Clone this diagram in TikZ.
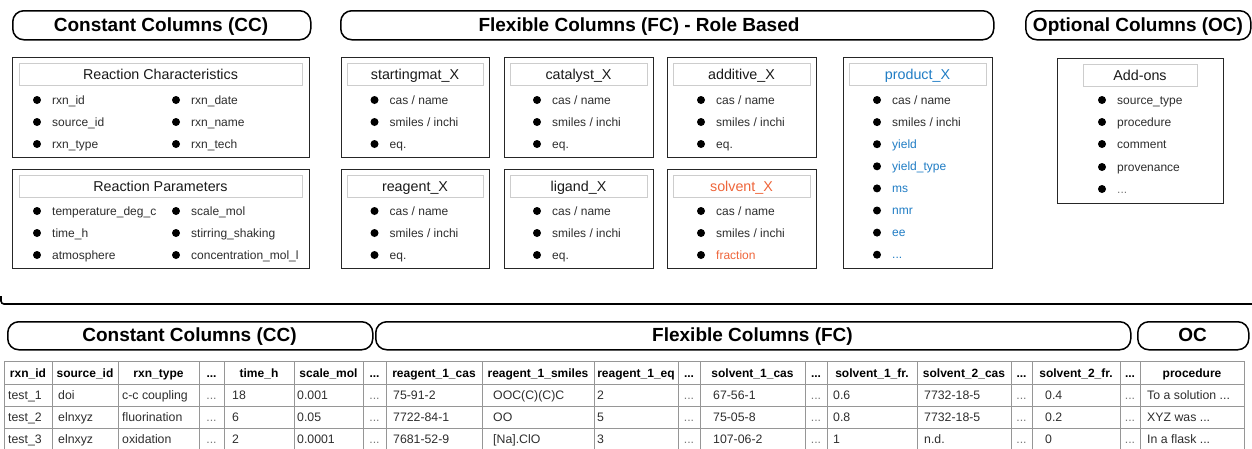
\documentclass[tikz,border=0pt]{standalone}
\usepackage{fontspec}
\setmainfont{Liberation Sans}

\definecolor{prodblue}{RGB}{31,124,196}
\definecolor{solvorange}{RGB}{238,101,58}
\definecolor{inkgray}{RGB}{45,45,45}
\definecolor{framegray}{RGB}{205,205,205}
\definecolor{gridgray}{RGB}{150,150,150}
\definecolor{dotgray}{RGB}{120,120,120}

\tikzset{
  pill/.style={draw=black, line width=1.5pt, rounded corners=11pt, anchor=north west, inner sep=0},
  headtext/.style={font=\fontsize{19}{22}\selectfont\bfseries, anchor=base, inner sep=0},
  grpbox/.style={draw=black!85, line width=1.1pt, anchor=north west, inner sep=0},
  ttlbox/.style={draw=framegray, line width=0.8pt, anchor=north west, inner sep=0},
  ttltext/.style={font=\fontsize{14.3}{17}\selectfont, anchor=base, inner sep=0},
  bulletdot/.style={circle, fill=black, inner sep=0, minimum size=8pt},
  itemtext/.style={font=\fontsize{12}{14}\selectfont, anchor=base west, inner sep=0, text=inkgray},
  gridline/.style={draw=gridgray, line width=0.7pt},
  thead/.style={font=\fontsize{12}{15}\selectfont\bfseries, anchor=base, inner sep=0},
  tcell/.style={font=\fontsize{12.3}{15}\selectfont, anchor=base west, inner sep=0, text=inkgray},
  tdots/.style={font=\fontsize{12.3}{15}\selectfont, anchor=base, inner sep=0, text=dotgray},
}

% rounded header bar: name, x1, y1, x2, y2
\newcommand\pillbox[5]{%
  \node[pill, minimum width={(#4-#2)*1pt}, minimum height={(#5-#3)*1pt}] (#1) at (#2,#3) {};}

% column group box with framed title: [title colour], name, x1, y1, x2, y2, title inset, title
\newcommand\cbox[8][black!90]{%
  \node[grpbox, minimum width={(#5-#3)*1pt}, minimum height={(#6-#4)*1pt}] (#2) at (#3,#4) {};
  \node[ttlbox, minimum width={(#5-#3-2*#7)*1pt}, minimum height=22pt] (#2-frame) at (#3+#7,#4+6) {};
  \node[ttltext, text=#1] (#2-title) at ({(#3+#5)/2},#4+22) {#8};}

% bullet item: [text options], name, x of bullet, y of bullet, text
\newcommand\bul[5][]{%
  \node[bulletdot] (#2-dot) at (#3,#4) {};
  \node[itemtext,#1] (#2) at (#3+15,#4+4.2) {#5};}

\newcommand\ddd{...}

\begin{document}
\begin{tikzpicture}[x=1pt,y=-1pt]
\useasboundingbox (0,0) rectangle (1252,448);

% ---------- header bars ----------
\pillbox{hcc}{12}{10}{310}{39}
\pillbox{hfc}{340}{10}{993}{39}
\pillbox{hoc}{1025}{10}{1250}{39}
\node[headtext] (hcc-t) at (161,31.3) {Constant Columns (CC)};
\node[headtext] (hfc-t) at (639,31.3) {Flexible Columns (FC) - Role Based};
\node[headtext] (hoc-t) at (1138,31.3) {Optional Columns (OC)};

% ---------- constant columns ----------
\cbox{rc}{12}{57}{309}{157}{7}{Reaction Characteristics}
\bul{rc1}{37}{100}{rxn\_id}
\bul{rc2}{37}{122}{source\_id}
\bul{rc3}{37}{144}{rxn\_type}
\bul{rc4}{176}{100}{rxn\_date}
\bul{rc5}{176}{122}{rxn\_name}
\bul{rc6}{176}{144}{rxn\_tech}

\cbox{rp}{12}{169}{309}{268}{7}{Reaction Parameters}
\bul{rp1}{37}{211}{temperature\_deg\_c}
\bul{rp2}{37}{233}{time\_h}
\bul{rp3}{37}{255}{atmosphere}
\bul{rp4}{176}{211}{scale\_mol}
\bul{rp5}{176}{233}{stirring\_shaking}
\bul{rp6}{176}{255}{concentration\_mol\_l}

% ---------- flexible columns ----------
\cbox{sm}{341}{57}{489}{157}{6}{startingmat\_X}
\bul{sm1}{374.5}{100}{cas / name}
\bul{sm2}{374.5}{122}{smiles / inchi}
\bul{sm3}{374.5}{144}{eq.}

\cbox{ca}{504}{57}{653}{157}{6}{catalyst\_X}
\bul{ca1}{537}{100}{cas / name}
\bul{ca2}{537}{122}{smiles / inchi}
\bul{ca3}{537}{144}{eq.}

\cbox{ad}{667}{57}{816}{157}{6}{additive\_X}
\bul{ad1}{701}{100}{cas / name}
\bul{ad2}{701}{122}{smiles / inchi}
\bul{ad3}{701}{144}{eq.}

\cbox{re}{341}{169}{489}{268}{6}{reagent\_X}
\bul{re1}{374.5}{211}{cas / name}
\bul{re2}{374.5}{233}{smiles / inchi}
\bul{re3}{374.5}{255}{eq.}

\cbox{li}{504}{169}{653}{268}{6}{ligand\_X}
\bul{li1}{537}{211}{cas / name}
\bul{li2}{537}{233}{smiles / inchi}
\bul{li3}{537}{255}{eq.}

\cbox[solvorange]{so}{667}{169}{816}{268}{6}{solvent\_X}
\bul{so1}{701}{211}{cas / name}
\bul{so2}{701}{233}{smiles / inchi}
\bul[text=solvorange]{so3}{701}{255}{fraction}

\cbox[prodblue]{pr}{843}{57}{992}{268}{6}{product\_X}
\bul{pr1}{877}{100}{cas / name}
\bul{pr2}{877}{122.1}{smiles / inchi}
\bul[text=prodblue]{pr3}{877}{144.2}{yield}
\bul[text=prodblue]{pr4}{877}{166.3}{yield\_type}
\bul[text=prodblue]{pr5}{877}{188.4}{ms}
\bul[text=prodblue]{pr6}{877}{210.5}{nmr}
\bul[text=prodblue]{pr7}{877}{232.6}{ee}
\bul[text=prodblue]{pr8}{877}{254.7}{...}

% ---------- optional columns ----------
\cbox{ao}{1057}{58}{1223}{203}{26}{Add-ons}
\bul{ao1}{1102}{100}{source\_type}
\bul{ao2}{1102}{122}{procedure}
\bul{ao3}{1102}{144}{comment}
\bul{ao4}{1102}{167}{provenance}
\bul[text=dotgray]{ao5}{1102}{189}{...}

% ---------- divider between schema and table ----------
\coordinate (divA) at (1,296);
\coordinate (divB) at (1,304);
\coordinate (divC) at (1254,304);
\draw[line width=1.6pt, rounded corners=3pt] (divA) -- (divB) -- (divC);

% ---------- table group bars ----------
\pillbox{bcc}{7}{321}{372}{349}
\pillbox{bfc}{375}{321}{1130}{349}
\pillbox{boc}{1137}{321}{1248}{349}
\node[headtext] (bcc-t) at (189.5,341.8) {Constant Columns (CC)};
\node[headtext] (bfc-t) at (752.5,341.8) {Flexible Columns (FC)};
\node[headtext] (boc-t) at (1192.5,341.8) {OC};

% ---------- example table ----------
\foreach \y in {361,384,406,428}
  \draw[gridline] (4,\y) -- (1244,\y);
\foreach \x in {4,52,118,199,224,294,363,386,482,594,678,700,805,827,917,1011,1032,1120,1140,1244}
  \draw[gridline] (\x,361) -- (\x,452);

% flag (0 text / 1 ellipsis) / left / right / left padding / header / three rows
\foreach \f/\l/\r/\p/\h/\a/\b/\c [count=\k] in {
  0/4/52/4/rxn\_id/test\_1/test\_2/test\_3,
  0/52/118/6/source\_id/doi/elnxyz/elnxyz,
  0/118/199/4/rxn\_type/c-c coupling/fluorination/oxidation,
  1/199/224/0/\ddd/\ddd/\ddd/\ddd,
  0/224/294/8/time\_h/18/6/2,
  0/294/363/3/scale\_mol/0.001/0.05/0.0001,
  1/363/386/0/\ddd/\ddd/\ddd/\ddd,
  0/386/482/7/reagent\_1\_cas/75-91-2/7722-84-1/7681-52-9,
  0/482/594/11/reagent\_1\_smiles/OOC(C)(C)C/OO/{[Na].ClO},
  0/594/678/3/reagent\_1\_eq/2/5/3,
  1/678/700/0/\ddd/\ddd/\ddd/\ddd,
  0/700/805/13/solvent\_1\_cas/67-56-1/75-05-8/107-06-2,
  1/805/827/0/\ddd/\ddd/\ddd/\ddd,
  0/827/917/6/solvent\_1\_fr./0.6/0.8/1,
  0/917/1011/7/solvent\_2\_cas/7732-18-5/7732-18-5/n.d.,
  1/1011/1032/0/\ddd/\ddd/\ddd/\ddd,
  0/1032/1120/13/solvent\_2\_fr./0.4/0.2/0,
  1/1120/1140/0/\ddd/\ddd/\ddd/\ddd,
  0/1140/1244/7/procedure/To a solution \ddd/XYZ was \ddd/In a flask \ddd}{
  \pgfmathsetmacro\m{(\l+\r)/2}
  \node[thead] (th\k) at (\m,377) {\h};
  \ifnum\f=0
    \node[tcell] (td\k-1) at (\l+\p,399.5) {\a};
    \node[tcell] (td\k-2) at (\l+\p,421.5) {\b};
    \node[tcell] (td\k-3) at (\l+\p,443.5) {\c};
  \else
    \node[tdots] (td\k-1) at (\m,399.5) {\a};
    \node[tdots] (td\k-2) at (\m,421.5) {\b};
    \node[tdots] (td\k-3) at (\m,443.5) {\c};
  \fi
}
\end{tikzpicture}
\end{document}
